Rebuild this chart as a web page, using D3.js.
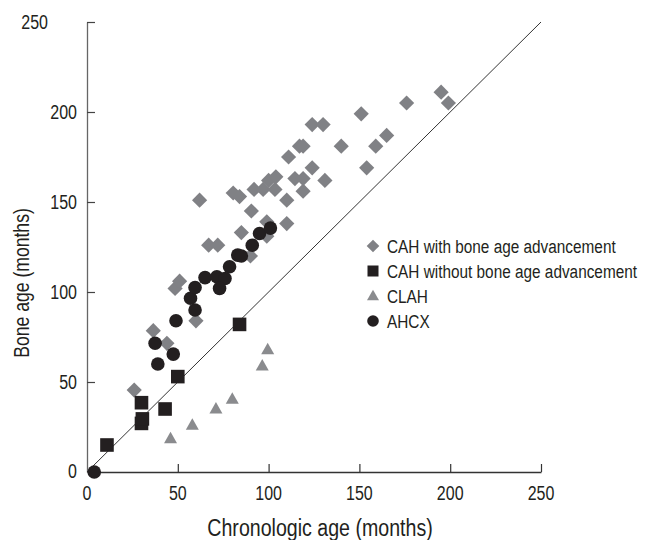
<!DOCTYPE html>
<html>
<head>
<meta charset="utf-8">
<script src="https://cdn.jsdelivr.net/npm/d3@7"></script>
<style>
  html, body { margin: 0; padding: 0; background: #fff; }
  svg { display: block; }
  text { font-family: "Liberation Sans", Arial, Helvetica, sans-serif; fill: #231f20; }
</style>
</head>
<body>
<svg id="chart" width="647" height="540"></svg>
<script>
// ---- Data (months) ----
const cahWithAdvancement = [
  [26,45.5],[36.5,78.5],[44,71.5],[48.5,102],[51,106],[60,84],[62,151],[67,126],[72,126],
  [80.5,155],[84,153],[85,133],[90,120],[90.5,145],[92,157],[97,157],[99,139],[99,131],
  [100,162],[103.5,157],[104,164],[110,151],[110,138],[111,175],[114.5,163],[117,181],
  [119,181],[119,156],[119,163],[124,193],[130,193],[124,169],[131,162],[140,181],
  [151,199],[154,169],[159,181],[165,187],[176,205],[195,211],[199,205]
];
const cahWithoutAdvancement = [
  [11,15],[30,27],[30.5,29.5],[30,38.5],[43,35],[50,53],[84,82]
];
const clah = [
  [46,18.5],[58,26],[71,35],[80,40.5],[96.5,59],[99.5,68]
];
const ahcx = [
  [4,0],[39,60],[37.5,71.5],[47.5,65.5],[49,84],[59.5,90],[57,96.5],[59.5,102.5],[65,108],
  [71.5,108.5],[76,107.5],[73,102],[78.5,114],[83,120.5],[85,120],[91,126],[95,132.5],[101,135.5]
];
const xTicks = [0, 50, 100, 150, 200, 250];
const yTicks = [0, 50, 100, 150, 200, 250];
const identityLine = [[0,0],[250,250]];
const legendLabels = ["CAH with bone age advancement", "CAH without bone age advancement", "CLAH", "AHCX"];
const xTitle = "Chronologic age (months)";
const yTitle = "Bone age (months)";

// ---- Layout ----
const svg = d3.select("#chart");
const x = d3.scaleLinear().domain([0, 250]).range([87, 541]);
const y = d3.scaleLinear().domain([0, 250]).range([472, 22]);
const NARROW = 0.8;

const grey = "#808185";
const greyTri = "#8a8b8e";
const dark = "#231f20";

// condensed text helper (horizontal squeeze of Liberation Sans)
function ctext(parent, tx, ty, str, size, anchor, rot) {
  return parent.append("text")
    .attr("transform", `translate(${tx},${ty})${rot ? ` rotate(${rot})` : ""} scale(${NARROW},1)`)
    .attr("dy", "0.36em")
    .attr("text-anchor", anchor || "start")
    .attr("font-size", size)
    .text(str);
}

// Axes
const xAxis = d3.axisBottom(x).tickValues(xTicks).tickSize(-8).tickSizeOuter(0).tickFormat("");
const gx = svg.append("g").attr("transform", `translate(0,${y(0)})`).call(xAxis);
gx.select(".domain").attr("stroke", "#333").attr("stroke-width", 1.3);
gx.selectAll(".tick line").attr("stroke", "#333").attr("stroke-width", 1.2);
gx.selectAll(".tick").filter(d => d === 0).select("line").remove();
xTicks.forEach(t => ctext(svg, x(t), 493, String(t), 20, "middle"));

const yAxis = d3.axisLeft(y).tickValues(yTicks).tickSize(-8).tickSizeOuter(0).tickFormat("");
const gy = svg.append("g").attr("transform", `translate(${x(0)},0)`).call(yAxis);
gy.select(".domain").attr("stroke", "#666").attr("stroke-width", 1.3);
gy.selectAll(".tick line").attr("stroke", "#444").attr("stroke-width", 1.2);
gy.selectAll(".tick").filter(d => d === 0).select("line").remove();
yTicks.forEach(t => ctext(svg, t === 250 ? x(0) - 39 : x(0) - 10, y(t) - (t === 0 ? 1 : 0), String(t), 20, "end"));

// Identity line
svg.append("path")
  .attr("d", d3.line().x(d => x(d[0])).y(d => y(d[1]))(identityLine))
  .attr("stroke", "#333").attr("stroke-width", 1).attr("fill", "none");

// Markers
const diamondPath = (cx, cy, r) => `M${cx},${cy - r}L${cx + r},${cy}L${cx},${cy + r}L${cx - r},${cy}Z`;
const triPath = (cx, cy, w, h) => `M${cx},${cy - h * 0.6}L${cx + w / 2},${cy + h * 0.4}L${cx - w / 2},${cy + h * 0.4}Z`;

svg.append("g").selectAll("path").data(cahWithAdvancement).join("path")
  .attr("d", d => diamondPath(x(d[0]), y(d[1]), 7.6)).attr("fill", grey);

svg.append("g").selectAll("path").data(clah).join("path")
  .attr("d", d => triPath(x(d[0]), y(d[1]), 13, 11.5)).attr("fill", greyTri);

svg.append("g").selectAll("rect").data(cahWithoutAdvancement).join("rect")
  .attr("x", d => x(d[0]) - 6.8).attr("y", d => y(d[1]) - 6.8)
  .attr("width", 13.6).attr("height", 13.6).attr("fill", dark);

svg.append("g").selectAll("circle").data(ahcx).join("circle")
  .attr("cx", d => x(d[0])).attr("cy", d => y(d[1])).attr("r", 6.8).attr("fill", dark);

// Legend
const legX = 373, legTextX = 387, legY0 = 246, legDy = 25;
const leg = svg.append("g");
legendLabels.forEach((lab, i) => {
  const cy = legY0 + i * legDy;
  if (i === 0) leg.append("path").attr("d", diamondPath(legX, cy, 6.3)).attr("fill", grey);
  if (i === 1) leg.append("rect").attr("x", legX - 5.5).attr("y", cy - 5.5).attr("width", 11).attr("height", 11).attr("fill", dark);
  if (i === 2) leg.append("path").attr("d", triPath(legX, cy, 12, 10.5)).attr("fill", greyTri);
  if (i === 3) leg.append("circle").attr("cx", legX).attr("cy", cy).attr("r", 5.8).attr("fill", dark);
  ctext(leg, legTextX, cy, lab, 19.2, "start");
});

// Titles
ctext(svg, 320, 527, xTitle, 24.5, "middle");
ctext(svg, 21, y(105), yTitle, 22, "middle", -90);
</script>
</body>
</html>
